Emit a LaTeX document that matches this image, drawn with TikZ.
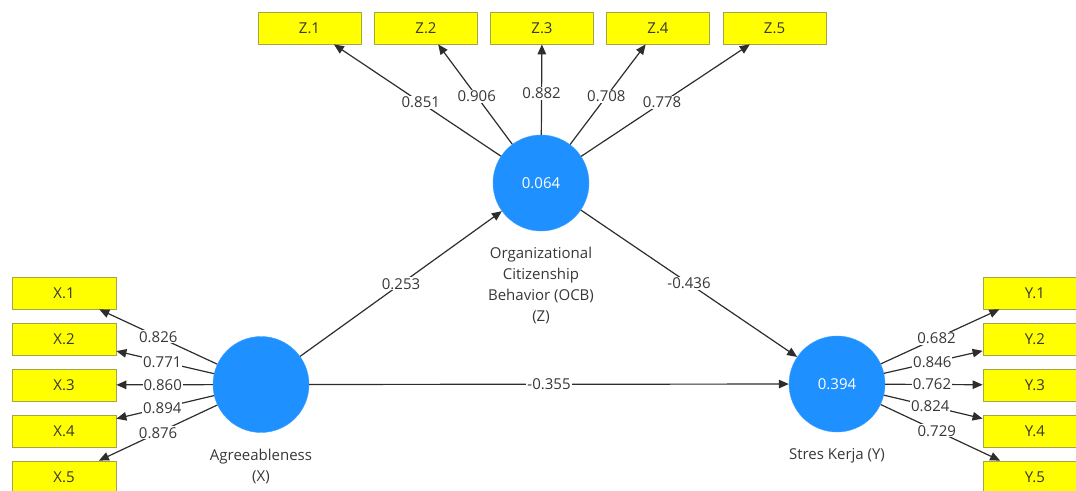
\documentclass[tikz,border=0pt]{standalone}
\usepackage{fontspec}
\setmainfont{Open Sans}
\usetikzlibrary{arrows.meta}
\definecolor{lvblue}{RGB}{30,144,255}
\definecolor{indy}{RGB}{255,255,0}
\definecolor{indyborder}{RGB}{165,165,70}
\definecolor{edgecol}{RGB}{45,45,45}
\definecolor{txt}{RGB}{55,55,55}
\newcommand\lbfont{\fontsize{15}{21}\selectfont}
\begin{document}
\begin{tikzpicture}[x=1pt,y=-1pt,
 lv/.style={circle,fill=lvblue,draw=lvblue!85!white,minimum size=96pt,inner sep=0pt,text=white,font=\lbfont},
 ind/.style={rectangle,fill=indy,draw=indyborder,line width=0.8pt,minimum width=103pt,minimum height=32pt,inner sep=0pt,text=txt,font=\lbfont},
 arr/.style={draw=edgecol,line width=1.2pt,-{Triangle[length=10pt,width=8.5pt]}},
 coef/.style={fill=white,inner sep=1pt,text=txt,font=\lbfont},
 nm/.style={align=center,inner sep=0pt,text=txt,font=\lbfont}]
\useasboundingbox (0,0) rectangle (1076,490);
% latent variables
\node[lv] (Z) at (541,183) {0.064};
\node[lv] (X) at (261,384.5) {};
\node[lv] (Y) at (837,384) {0.394};
% names
\node[nm,anchor=north] (Zn) at ([yshift=-16pt]Z.south) {Organizational\\Citizenship\\Behavior (OCB)\\(Z)};
\node[nm,anchor=north] (Xn) at ([yshift=-16pt]X.south) {Agreeableness\\(X)};
\node[nm,anchor=north] (Yn) at ([yshift=-16pt]Y.south) {Stres Kerja (Y)};
% Z indicators
\node[ind] (z1) at (309.5,28) {Z.1};
\node[ind] (z2) at (426,28) {Z.2};
\node[ind] (z3) at (542,28) {Z.3};
\node[ind] (z4) at (658,28) {Z.4};
\node[ind] (z5) at (774.5,28) {Z.5};
% X indicators
\node[ind,minimum width=104pt] (x1) at (64,293) {X.1};
\node[ind,minimum width=104pt] (x2) at (64,339) {X.2};
\node[ind,minimum width=104pt] (x3) at (64,385) {X.3};
\node[ind,minimum width=104pt] (x4) at (64,431) {X.4};
\node[ind,minimum width=104pt] (x5) at (64,477) {X.5};
% Y indicators
\node[ind,minimum width=104pt] (y1) at (1035,293) {Y.1};
\node[ind,minimum width=104pt] (y2) at (1035,339) {Y.2};
\node[ind,minimum width=104pt] (y3) at (1035,385) {Y.3};
\node[ind,minimum width=104pt] (y4) at (1035,431) {Y.4};
\node[ind,minimum width=104pt] (y5) at (1035,477) {Y.5};
% outer loadings Z
\draw[arr] (Z) -- node[coef,pos=0.48] {0.851} (z1);
\draw[arr] (Z) -- node[coef,pos=0.48] {0.906} (z2);
\draw[arr] (Z) -- node[coef,pos=0.46] {0.882} (z3);
\draw[arr] (Z) -- node[coef,pos=0.48] {0.708} (z4);
\draw[arr] (Z) -- node[coef,pos=0.48] {0.778} (z5);
% outer loadings X
\draw[arr] (X) -- node[coef,pos=0.50] {0.826} (x1);
\draw[arr] (X) -- node[coef,pos=0.53] {0.771} (x2);
\draw[arr] (X) -- node[coef,pos=0.52] {0.860} (x3);
\draw[arr] (X) -- node[coef,pos=0.53] {0.894} (x4);
\draw[arr] (X) -- node[coef,pos=0.50] {0.876} (x5);
% outer loadings Y
\draw[arr] (Y) -- node[coef,pos=0.47] {0.682} (y1);
\draw[arr] (Y) -- node[coef,pos=0.49] {0.846} (y2);
\draw[arr] (Y) -- node[coef,pos=0.48] {0.762} (y3);
\draw[arr] (Y) -- node[coef,pos=0.47] {0.824} (y4);
\draw[arr] (Y) -- node[coef,pos=0.47] {0.729} (y5);
% structural paths
\draw[arr] (X) -- node[coef] {0.253} (Z);
\draw[arr] (Z) -- node[coef] {-0.436} (Y);
\draw[arr] (X) -- node[coef] {-0.355} (Y);
\end{tikzpicture}
\end{document}
